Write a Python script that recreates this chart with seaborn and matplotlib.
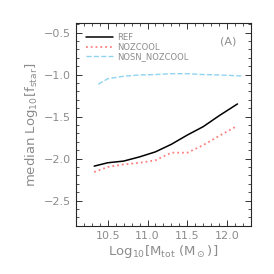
import matplotlib
matplotlib.use('Agg')
import matplotlib.pyplot as plt
import seaborn as sns
import pandas as pd
from matplotlib.ticker import MultipleLocator

# median stellar fraction vs halo mass
mass_ref = [10.33, 10.5, 10.7, 10.9, 11.1, 11.3, 11.5, 11.7, 11.9, 12.13]
ref = [-2.09, -2.05, -2.03, -1.98, -1.92, -1.83, -1.72, -1.62, -1.49, -1.35]
mass_noz = [10.33, 10.5, 10.7, 10.9, 11.1, 11.3, 11.5, 11.7, 11.9, 12.11]
nozcool = [-2.16, -2.10, -2.07, -2.05, -2.02, -1.93, -1.93, -1.84, -1.73, -1.62]
mass_nosn = [10.38, 10.5, 10.7, 10.9, 11.1, 11.3, 11.5, 11.7, 11.9, 12.18]
nosn_nozcool = [-1.115, -1.05, -1.02, -1.005, -1.0, -0.99, -0.99, -1.0, -1.005, -1.017]

df = pd.concat([
    pd.DataFrame({'mass': mass_ref, 'fstar': ref, 'run': 'REF'}),
    pd.DataFrame({'mass': mass_noz, 'fstar': nozcool, 'run': 'NOZCOOL'}),
    pd.DataFrame({'mass': mass_nosn, 'fstar': nosn_nozcool, 'run': 'NOSN_NOZCOOL'}),
])

sns.set_style('ticks')
plt.rcParams['font.family'] = ['DejaVu Sans']
grey = '#8c8c8c'

fig = plt.figure(figsize=(2.74, 2.74), dpi=100)
ax = fig.add_axes([0.277, 0.176, 0.639, 0.739])

styles = {'REF': ('black', '-', 1.1),
          'NOZCOOL': ('#ff7f7f', ':', 1.3),
          'NOSN_NOZCOOL': ('#8fd3f0', '--', 1.0)}
for run, (c, ls, lw) in styles.items():
    sns.lineplot(data=df[df['run'] == run], x='mass', y='fstar', ax=ax,
                 color=c, linestyle=ls, linewidth=lw, label=run, sort=False)

ax.set_xlim(10.1, 12.3)
ax.set_ylim(-2.8, -0.39)
ax.xaxis.set_major_locator(MultipleLocator(0.5))
ax.xaxis.set_minor_locator(MultipleLocator(0.1))
ax.yaxis.set_major_locator(MultipleLocator(0.5))
ax.yaxis.set_minor_locator(MultipleLocator(0.1))
ax.tick_params(which='both', direction='in', top=True, right=True,
               colors='#333333', labelcolor=grey, labelsize=8)
ax.tick_params(which='major', length=4, width=0.7)
ax.tick_params(which='minor', length=2, width=0.6)
for s in ax.spines.values():
    s.set_linewidth(0.8)

ax.set_xlabel(r'Log$_{10}$[M$_{\rm tot}$ (M$_\odot$)]', color=grey, fontsize=9.5, labelpad=2)
ax.set_ylabel(r'median Log$_{10}$[f$_{\rm star}$]', color=grey, fontsize=9.5, labelpad=3)

leg = ax.legend(loc='upper left', frameon=False, fontsize=6, handlelength=3.2,
                handletextpad=0.5, labelspacing=0.05, borderaxespad=0.8)
for t in leg.get_texts():
    t.set_color(grey)

ax.text(0.87, 0.91, '(A)', transform=ax.transAxes, fontsize=8, color=grey,
        ha='center', va='center')

fig.savefig('out.png', dpi=100)
